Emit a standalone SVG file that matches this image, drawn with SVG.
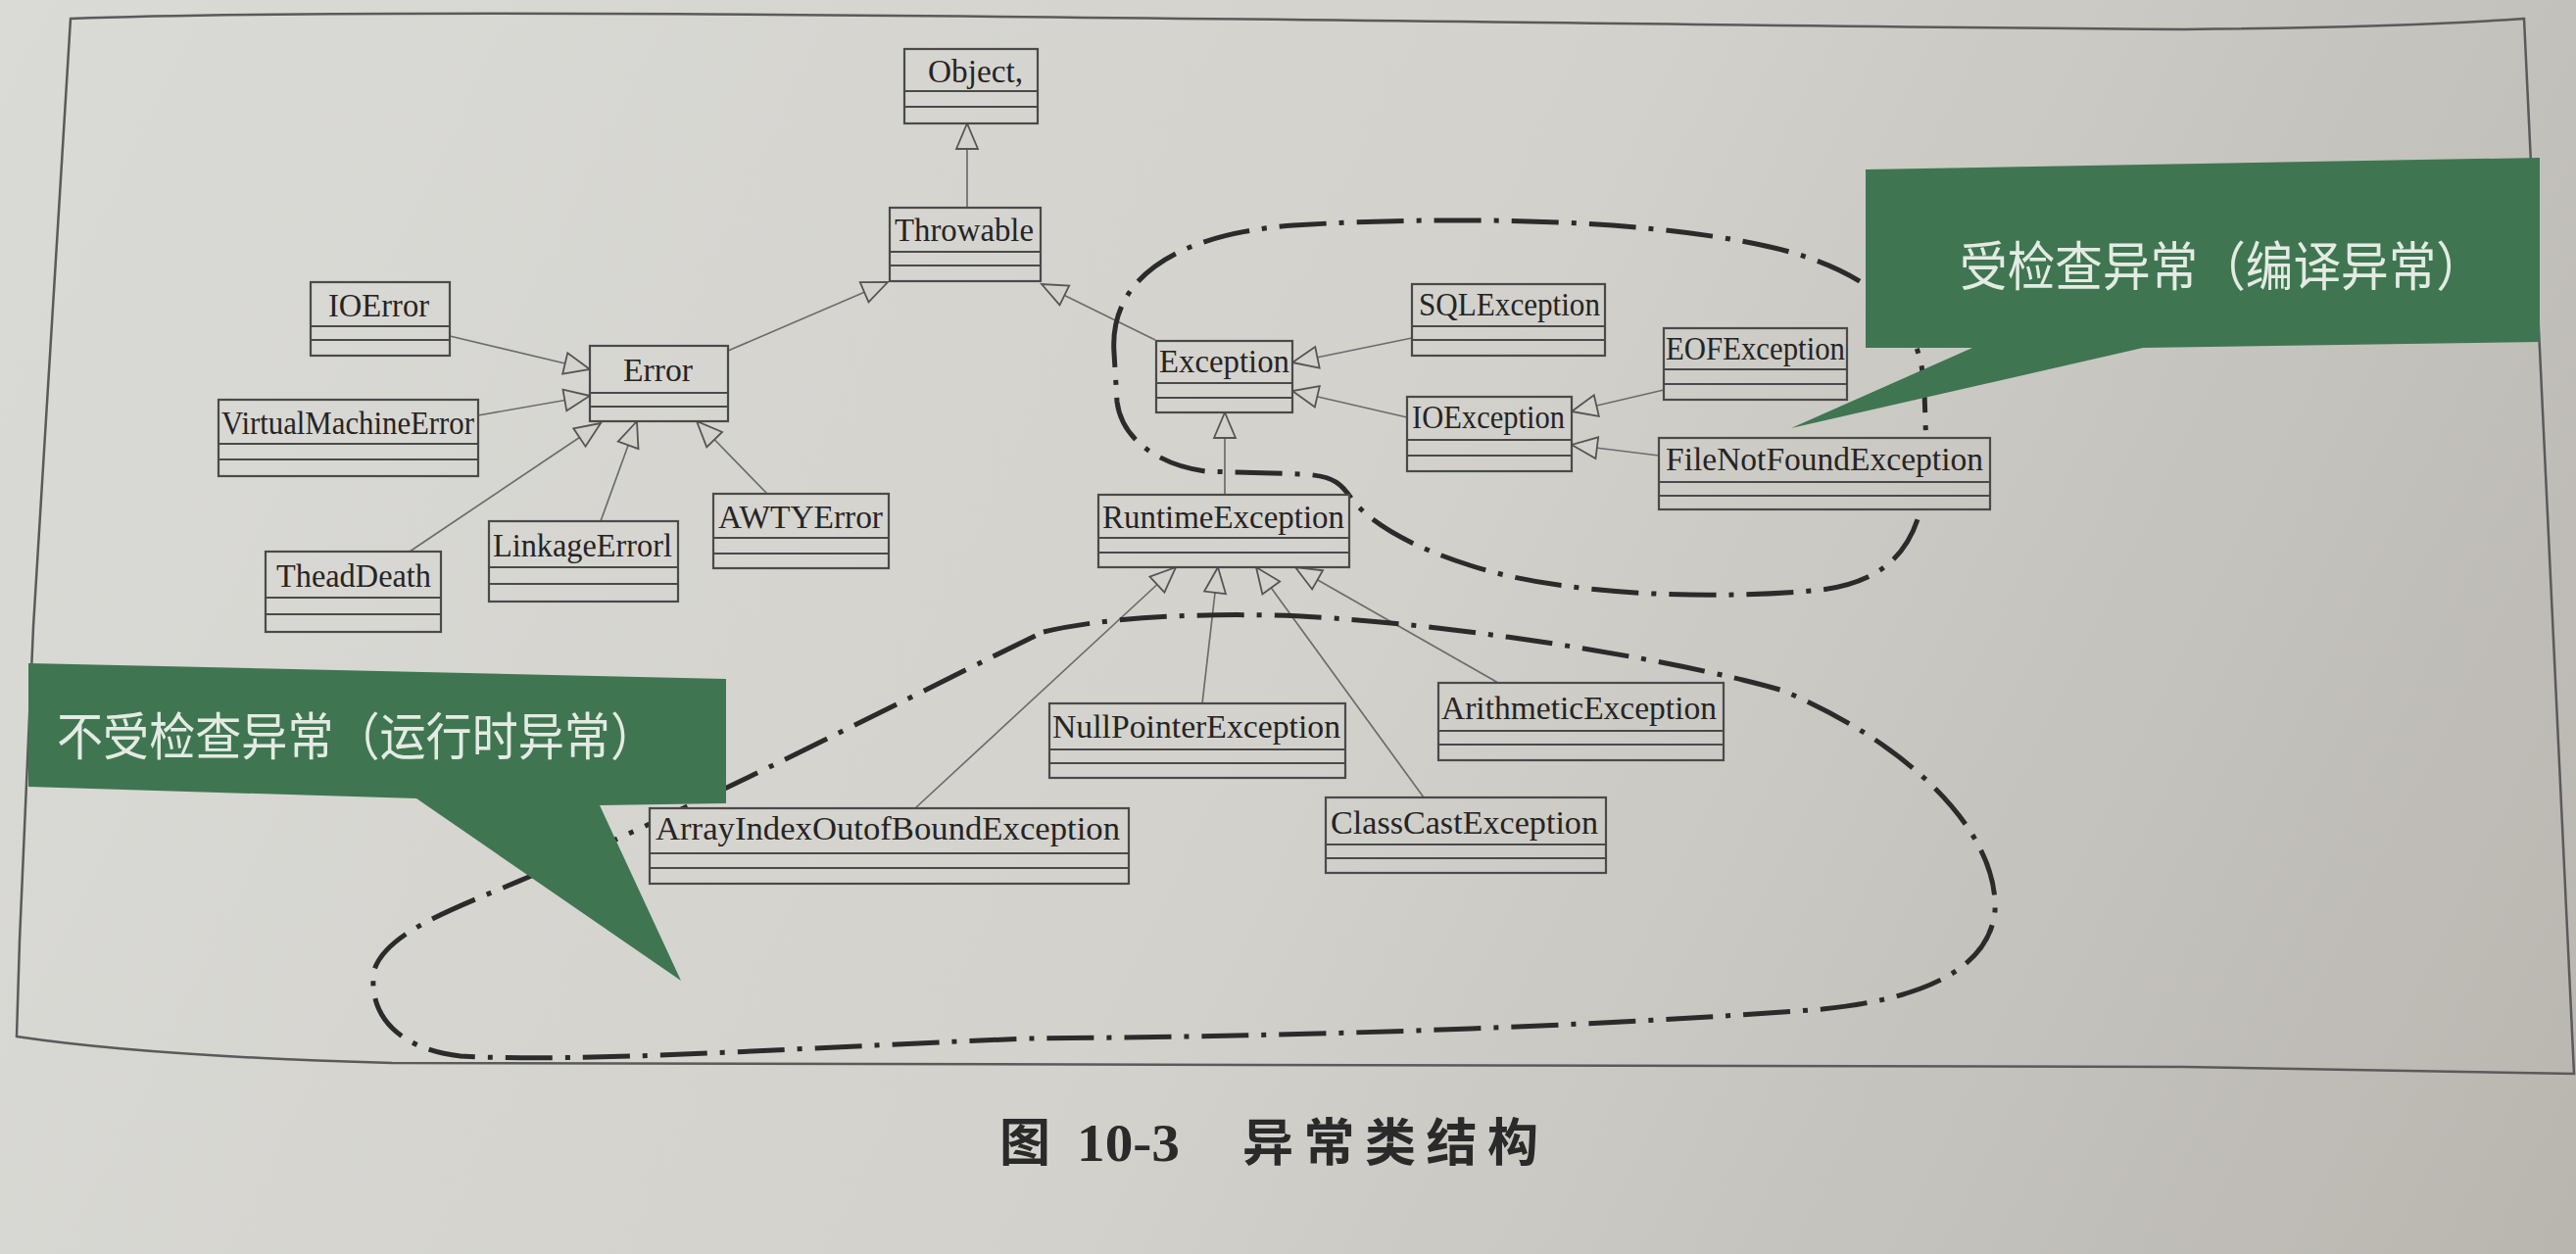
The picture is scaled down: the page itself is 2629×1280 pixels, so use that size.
<svg xmlns="http://www.w3.org/2000/svg" width="2629" height="1280" viewBox="0 0 2629 1280">
<defs>
<linearGradient id="paper" gradientUnits="userSpaceOnUse" x1="0" y1="0" x2="2629" y2="1280">
<stop offset="0" stop-color="#dadad6"/>
<stop offset="0.5" stop-color="#d3d2cd"/>
<stop offset="1" stop-color="#b9b6b0"/>
</linearGradient>
<marker id="tri" markerUnits="userSpaceOnUse" markerWidth="30" markerHeight="26" viewBox="-28 -13 30 26" refX="0" refY="0" orient="auto">
<path d="M0,0 L-26,-11 L-26,11 Z" fill="#d4d2cd" stroke="#555" stroke-width="1.8" stroke-linejoin="miter"/>
</marker>
<style>
.box rect{fill:url(#paper);stroke:#4a4a4a;stroke-width:2.2}
.box path{fill:none;stroke:#4a4a4a;stroke-width:2}
.box text{font-family:"Liberation Serif","Times New Roman",serif;font-size:33px;fill:#262424}
.conn line{stroke:#6c6c6c;stroke-width:1.7;marker-end:url(#tri)}
.loop{fill:none;stroke:#2b2b2b;stroke-width:5;stroke-dasharray:48 13 5 13}
.callout path{fill:#3f7651}
.callout text{font-family:"Noto Sans CJK SC","Noto Sans",sans-serif;fill:#e4ebe3}
.cap{font-weight:bold;fill:#2a2a2a}
</style>
</defs>
<rect x="0" y="0" width="2629" height="1280" fill="url(#paper)"/>
<path id="frame" d="M72,19 C 500,4 1600,26 2229,30 Q 2450,28 2576,19 L 2627,1096 L 2229,1089 L 400,1085 Q 150,1078 17,1058 L 20,960 L 34,640 Z" fill="none" stroke="#5a5a5a" stroke-width="2.5"/>

<g id="connectors" class="conn">
<line x1="987" y1="212" x2="987" y2="126"/>
<line x1="743" y1="358" x2="906" y2="288"/>
<line x1="1179" y1="347" x2="1063" y2="290"/>
<line x1="459" y1="343" x2="602" y2="377"/>
<line x1="488" y1="424" x2="602" y2="404"/>
<line x1="418" y1="563" x2="613" y2="432"/>
<line x1="613" y1="532" x2="650" y2="430"/>
<line x1="783" y1="504" x2="711" y2="430"/>
<line x1="1441" y1="345" x2="1319" y2="370"/>
<line x1="1436" y1="426" x2="1319" y2="399"/>
<line x1="1698" y1="398" x2="1604" y2="420"/>
<line x1="1693" y1="465" x2="1604" y2="454"/>
<line x1="1250" y1="505" x2="1250" y2="421"/>
<line x1="1227" y1="718" x2="1243" y2="579"/>
<line x1="934" y1="825" x2="1200" y2="579"/>
<line x1="1453" y1="814" x2="1282" y2="579"/>
<line x1="1529" y1="697" x2="1322" y2="579"/>
</g>

<g id="loops">
<path class="loop" d="M1137,360 C1132,290 1190,240 1320,230 C1480,220 1700,222 1830,258 C1920,285 1962,330 1964,400 L1966,460 C1966,530 1950,590 1860,602 C1760,612 1600,610 1500,577 C1440,558 1400,535 1380,510 C1368,492 1360,486 1330,484 L1230,481 C1185,475 1145,450 1140,410 Z"/>
<path class="loop" d="M1065,645 C1120,632 1200,626 1300,628 C1450,632 1700,670 1820,705 C1950,760 2040,850 2036,930 C2030,990 1960,1020 1860,1030 C1600,1050 1300,1058 1050,1060 C800,1070 600,1085 470,1078 C400,1070 375,1030 382,990 C395,950 470,925 540,895 C700,830 950,700 1065,645 Z"/>
</g>

<g id="object" class="box"><rect x="923" y="50" width="136" height="76"/><path d="M923 93H1059M923 109H1059"/><text x="947" y="84" textLength="97" lengthAdjust="spacingAndGlyphs">Object,</text></g>
<g id="throwable" class="box"><rect x="908" y="212" width="154" height="75"/><path d="M908 257H1062M908 271H1062"/><text x="913" y="246" textLength="142" lengthAdjust="spacingAndGlyphs">Throwable</text></g>
<g id="ioerror" class="box"><rect x="317" y="288" width="142" height="75"/><path d="M317 333H459M317 347H459"/><text x="335" y="323" textLength="103" lengthAdjust="spacingAndGlyphs">IOError</text></g>
<g id="error" class="box"><rect x="602" y="353" width="141" height="77"/><path d="M602 401H743M602 415H743"/><text x="636" y="389" textLength="71" lengthAdjust="spacingAndGlyphs">Error</text></g>
<g id="virtualmachineerror" class="box"><rect x="223" y="408" width="265" height="78"/><path d="M223 453H488M223 469H488"/><text x="226" y="443" textLength="258" lengthAdjust="spacingAndGlyphs">VirtualMachineError</text></g>
<g id="theaddeath" class="box"><rect x="271" y="563" width="179" height="82"/><path d="M271 610H450M271 627H450"/><text x="282" y="599" textLength="158" lengthAdjust="spacingAndGlyphs">TheadDeath</text></g>
<g id="linkageerror" class="box"><rect x="499" y="532" width="193" height="82"/><path d="M499 579H692M499 596H692"/><text x="503" y="568" textLength="183" lengthAdjust="spacingAndGlyphs">LinkageErrorl</text></g>
<g id="awtyerror" class="box"><rect x="728" y="504" width="179" height="76"/><path d="M728 549H907M728 565H907"/><text x="733" y="539" textLength="168" lengthAdjust="spacingAndGlyphs">AWTYError</text></g>
<g id="exception" class="box"><rect x="1180" y="348" width="139" height="73"/><path d="M1180 391H1319M1180 406H1319"/><text x="1183" y="380" textLength="133" lengthAdjust="spacingAndGlyphs">Exception</text></g>
<g id="sqlexception" class="box"><rect x="1441" y="290" width="197" height="73"/><path d="M1441 333H1638M1441 347H1638"/><text x="1448" y="322" textLength="185" lengthAdjust="spacingAndGlyphs">SQLException</text></g>
<g id="eofexception" class="box"><rect x="1698" y="335" width="187" height="73"/><path d="M1698 377H1885M1698 392H1885"/><text x="1700" y="367" textLength="183" lengthAdjust="spacingAndGlyphs">EOFException</text></g>
<g id="ioexception" class="box"><rect x="1436" y="405" width="168" height="76"/><path d="M1436 449H1604M1436 465H1604"/><text x="1441" y="437" textLength="156" lengthAdjust="spacingAndGlyphs">IOException</text></g>
<g id="filenotfoundexception" class="box"><rect x="1693" y="447" width="338" height="73"/><path d="M1693 492H2031M1693 506H2031"/><text x="1700" y="480" textLength="324" lengthAdjust="spacingAndGlyphs">FileNotFoundException</text></g>
<g id="runtimeexception" class="box"><rect x="1121" y="505" width="256" height="74"/><path d="M1121 549H1377M1121 564H1377"/><text x="1125" y="539" textLength="247" lengthAdjust="spacingAndGlyphs">RuntimeException</text></g>
<g id="nullpointerexception" class="box"><rect x="1071" y="718" width="302" height="76"/><path d="M1071 765H1373M1071 779H1373"/><text x="1074" y="753" textLength="294" lengthAdjust="spacingAndGlyphs">NullPointerException</text></g>
<g id="arithmeticexception" class="box"><rect x="1468" y="697" width="291" height="79"/><path d="M1468 746H1759M1468 760H1759"/><text x="1471" y="734" textLength="281" lengthAdjust="spacingAndGlyphs">ArithmeticException</text></g>
<g id="classcastexception" class="box"><rect x="1353" y="814" width="286" height="77"/><path d="M1353 862H1639M1353 876H1639"/><text x="1358" y="851" textLength="273" lengthAdjust="spacingAndGlyphs">ClassCastException</text></g>
<g id="arrayindexoutofboundexception" class="box"><rect x="663" y="825" width="489" height="77"/><path d="M663 871H1152M663 886H1152"/><text x="669" y="857" textLength="474" lengthAdjust="spacingAndGlyphs">ArrayIndexOutofBoundException</text></g>

<g id="callout-checked" class="callout">
<path d="M1904,173 L2592,161 L2592,349 L2187,355 L1828,437 L2013,355 L1904,355 Z"/>
<text x="2000" y="292" font-size="54" textLength="535" lengthAdjust="spacingAndGlyphs">受检查异常（编译异常）</text>
</g>
<g id="callout-unchecked" class="callout">
<path d="M29,677 L741,693 L741,820 L612,822 L695,1001 L425,815 L29,803 Z"/>
<text x="58" y="771" font-size="52" textLength="612" lengthAdjust="spacingAndGlyphs">不受检查异常（运行时异常）</text>
</g>

<text id="caption" class="cap" y="1185"><tspan x="1020" font-family="Noto Sans CJK SC, sans-serif" font-size="52">图</tspan><tspan x="1099" font-family="Liberation Serif, serif" font-size="54" textLength="105" lengthAdjust="spacingAndGlyphs">10-3</tspan><tspan x="1268" font-family="Noto Sans CJK SC, sans-serif" font-size="52" textLength="302" lengthAdjust="spacing">异常类结构</tspan></text>
</svg>
